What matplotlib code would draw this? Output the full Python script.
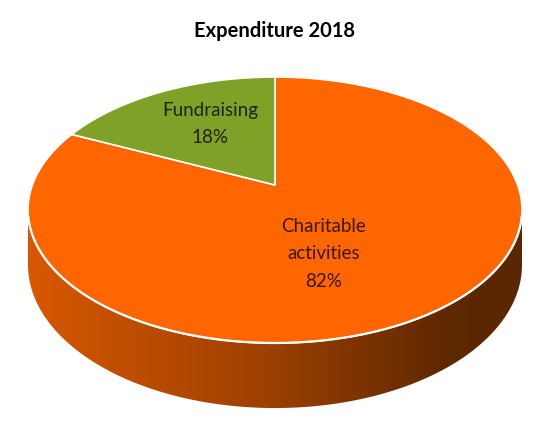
import numpy as np
import matplotlib
matplotlib.use("Agg")
import matplotlib.pyplot as plt
from matplotlib.patches import Polygon
from matplotlib.colors import LinearSegmentedColormap

# data
labels = ['Charitable\nactivities', 'Fundraising']
values = [82, 18]
slice_colors = ['#FF6600', '#80A128']
title = 'Expenditure 2018'

# projection of the tilted pie (pixel space)
CX, CY = 275.0, 185.0      # projected pie centre
A, B = 242.6, 128.3        # horizontal / vertical scale
K = 0.188                  # perspective factor
DEPTH = 52.8               # thickness


def proj(theta_deg, r=1.0, drop=0.0):
    t = np.radians(theta_deg)
    u = r * np.cos(t)
    v = r * np.sin(t)
    w = 1 + K * v
    return CX + A * u / w, CY - B * v / w + drop / w


plt.rcParams['font.family'] = ['Lato', 'DejaVu Sans']
fig = plt.figure(figsize=(5.5, 4.3), dpi=100)
ax = fig.add_axes([0, 0, 1, 1])
ax.set_xlim(0, 550)
ax.set_ylim(430, 0)
ax.axis('off')

# side wall (front half) with horizontal gradient
phi_side = np.degrees(np.arcsin(K))
ang = np.linspace(180 + phi_side, 360 - phi_side, 300)
tx, ty = proj(ang)
bx, by = proj(ang[::-1], drop=DEPTH)
side_pts = np.column_stack([np.concatenate([tx, bx]), np.concatenate([ty, by])])
side = Polygon(side_pts, closed=True, facecolor='none', edgecolor='none')
ax.add_patch(side)
side_cmap = LinearSegmentedColormap.from_list(
    'side', [(0.0, '#D85800'), (0.5, '#9A3F00'), (0.85, '#5E2800'), (1.0, '#5A2700')])
grad = np.linspace(0, 1, 256).reshape(1, -1)
im = ax.imshow(grad, cmap=side_cmap, aspect='auto',
               extent=[28, 522, 420, 200], zorder=1)
im.set_clip_path(side)

# top face slices (clockwise from 12 o'clock)
total = float(sum(values))
start = 90.0
mids = []
for val, col in zip(values, slice_colors):
    sweep = val / total * 360.0
    end = start - sweep
    a = np.linspace(start, end, 200)
    px, py = proj(a)
    pts = np.column_stack([np.concatenate([[CX], px]), np.concatenate([[CY], py])])
    ax.add_patch(Polygon(pts, closed=True, facecolor=col, edgecolor='white',
                         linewidth=1.2, joinstyle='round', zorder=2))
    mids.append((start + end) / 2)
    start = end

# white rim along the front edge
fx, fy = proj(np.linspace(180 + phi_side + 3, 360 - phi_side - 3, 300))
ax.plot(fx, fy, color='white', linewidth=1.6, zorder=3)

# data labels
label_r = [0.52, 0.6]
label_shift = [-12, -3]
for lab, val, mid, r, sh in zip(labels, values, mids, label_r, label_shift):
    lx, ly = proj(mid + sh, r=r)
    ax.text(lx, ly, f'{lab}\n{val}%', ha='center', va='center', fontsize=13.5,
            color='black', alpha=0.78, linespacing=1.75, zorder=4)

ax.text(275, 31, title, ha='center', va='center', fontsize=14.5,
        fontweight='bold', color='black')

fig.savefig('out.png', dpi=100)
